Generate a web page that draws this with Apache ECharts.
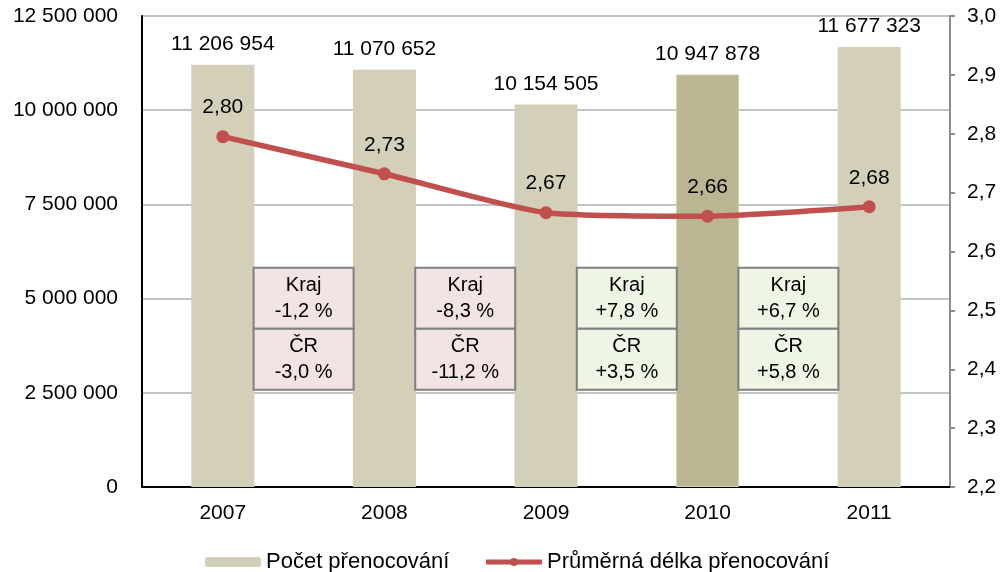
<!DOCTYPE html>
<html>
<head>
<meta charset="utf-8">
<script src="https://cdn.jsdelivr.net/npm/echarts@6/dist/echarts.min.js"></script>
<style>
  html, body { margin: 0; padding: 0; background: #fff; }
  #chart { width: 1003px; height: 572px; }
</style>
</head>
<body>
<div id="chart"></div>
<script>
const years = ["2007", "2008", "2009", "2010", "2011"];
const stays = [11206954, 11070652, 10154505, 10947878, 11677323];
const avgLength = [2.795, 2.732, 2.666, 2.66, 2.676];
const avgLabels = ["2,80", "2,73", "2,67", "2,66", "2,68"];
// year-on-year change of stays, shown between neighbouring columns
const krajChange = ["-1,2 %", "-8,3 %", "+7,8 %", "+6,7 %"];
const crChange = ["-3,0 %", "-11,2 %", "+3,5 %", "+5,8 %"];

const font = "'Liberation Sans', Arial, sans-serif";
const chart = echarts.init(document.getElementById("chart"));

function spaced(v) {
  return String(v).replace(/\B(?=(\d{3})+(?!\d))/g, " ");
}

function boxItem(params, api) {
  const i = params.dataIndex;
  const a = api.coord([i, 0]);
  const b = api.coord([i + 1, 0]);
  const top = api.coord([i, 5820000])[1];
  const cx = (a[0] + b[0]) / 2;
  const w = 100, h = 61;
  const neg = krajChange[i].charAt(0) === "-";
  const fill = neg ? "#f2e4e4" : "#eff5e5";
  const cell = (y, txt) => ({
    type: "rect",
    shape: { x: cx - w / 2, y: y, width: w, height: h },
    style: { fill: fill, stroke: "#7f7f7f", lineWidth: 2 },
    textContent: {
      style: { text: txt, fill: "#000", font: "20px " + font, align: "center", lineHeight: 26 }
    },
    textConfig: { position: "inside" }
  });
  return {
    type: "group",
    children: [
      cell(top, "Kraj\n" + krajChange[i]),
      cell(top + h, "ČR\n" + crChange[i])
    ]
  };
}

chart.setOption({
  animation: false,
  textStyle: { fontFamily: font },
  grid: { left: 142, right: 53, top: 16, bottom: 85 },
  legend: {
    data: [
      { name: "Počet přenocování" },
      { name: "Průměrná délka přenocování", lineStyle: { width: 5 } }
    ],
    left: 200, top: 546, itemGap: 34,
    itemWidth: 56, itemHeight: 10,
    textStyle: { fontSize: 22, color: "#000", fontFamily: font }
  },
  xAxis: {
    type: "category",
    data: years,
    axisLine: { lineStyle: { color: "#000", width: 2 } },
    axisTick: { show: false },
    axisLabel: { color: "#000", fontSize: 21, margin: 16 }
  },
  yAxis: [
    {
      type: "value", min: 0, max: 12500000, interval: 2500000,
      axisLine: { show: true, lineStyle: { color: "#000", width: 2 } },
      axisTick: { show: false },
      axisLabel: { color: "#000", fontSize: 21, margin: 24, formatter: spaced },
      splitLine: { lineStyle: { color: "#c3c3c3", width: 2 } }
    },
    {
      type: "value", min: 2.2, max: 3.0, interval: 0.1,
      axisLine: { show: true, lineStyle: { color: "#8c8c8c", width: 2 } },
      axisTick: { show: true, inside: false, length: 5, lineStyle: { color: "#8c8c8c", width: 2 } },
      axisLabel: { color: "#000", fontSize: 21, margin: 17, formatter: v => v.toFixed(1).replace(".", ",") },
      splitLine: { show: false }
    }
  ],
  series: [
    {
      name: "Počet přenocování",
      type: "bar",
      barWidth: "39%",
      itemStyle: { color: "#d3cfb8" },
      data: stays.map((v, i) => i === 3
        ? { value: v, itemStyle: { color: "#bab592", borderColor: "#d8d2a8", borderWidth: 1 } }
        : v),
      label: {
        show: true, position: "top", distance: 10,
        color: "#000", fontSize: 21, formatter: p => spaced(p.value)
      }
    },
    {
      name: "Průměrná délka přenocování",
      type: "line",
      yAxisIndex: 1,
      data: avgLength,
      smooth: 0.2,
      symbol: "circle", symbolSize: 13,
      lineStyle: { color: "#c0504d", width: 5.5 },
      itemStyle: { color: "#c0504d" },
      label: {
        show: true, position: "top", distance: 12,
        color: "#000", fontSize: 21, formatter: p => avgLabels[p.dataIndex]
      },
      z: 3
    },
    {
      type: "custom",
      renderItem: boxItem,
      data: krajChange.map((v, i) => [i]),
      clip: false,
      silent: true,
      z: 4
    }
  ]
});
</script>
</body>
</html>
